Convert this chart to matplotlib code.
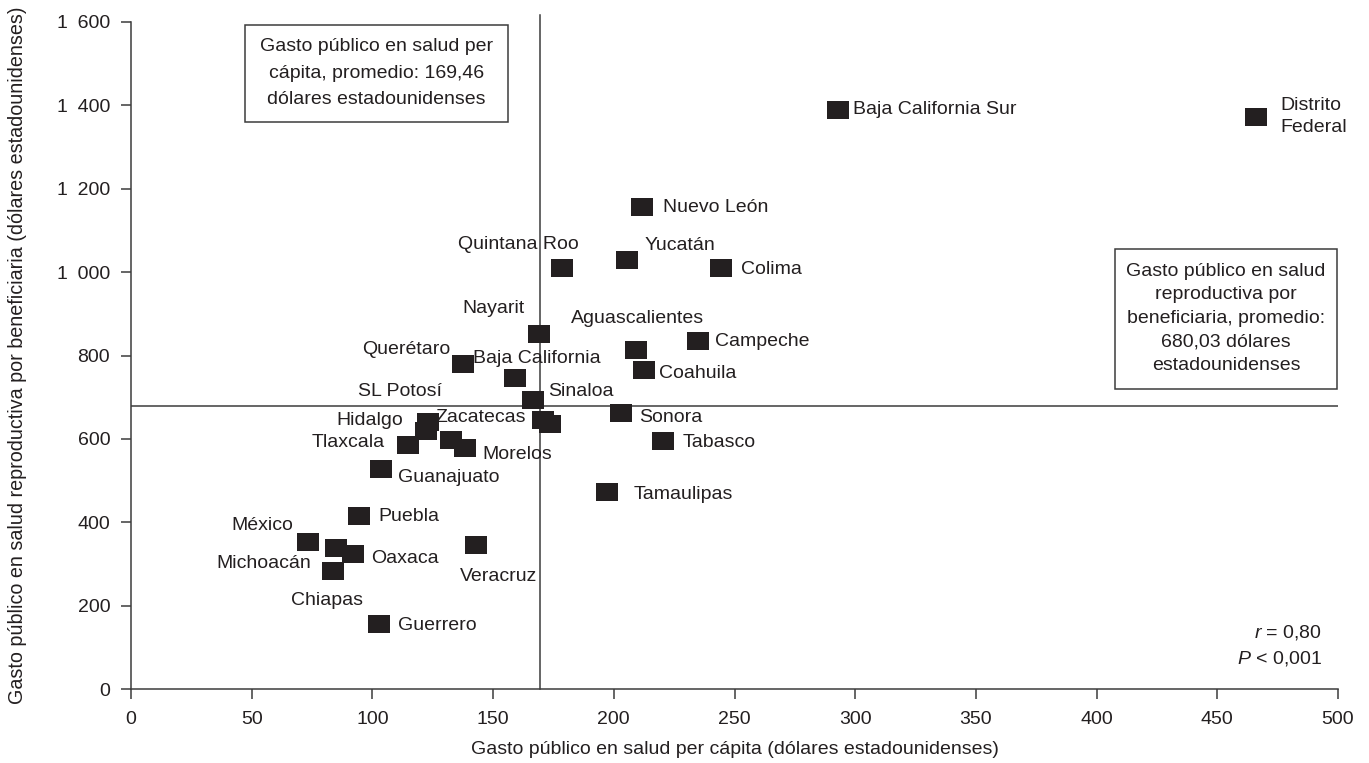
import numpy as np
import matplotlib
matplotlib.use("Agg")
import matplotlib.pyplot as plt
from matplotlib.patches import Rectangle

plt.rcParams["font.family"] = ["Liberation Sans", "DejaVu Sans"]
plt.rcParams["mathtext.fontset"] = "custom"
plt.rcParams["mathtext.rm"] = "Liberation Sans"
plt.rcParams["mathtext.it"] = "Liberation Sans:italic"

# State data: per-capita public health spending vs reproductive health spending per beneficiary
states = ["Baja California Sur", "Distrito\nFederal", "Nuevo León", "Quintana Roo", "Yucatán",
          "Colima", "Nayarit", "Aguascalientes", "Campeche", "Querétaro", "Baja California",
          "Coahuila", "Sinaloa", "SL Potosí", "Hidalgo", "Tlaxcala", "", "Morelos",
          "Zacatecas", "", "Sonora", "Tabasco", "Guanajuato", "Tamaulipas", "Puebla",
          "Veracruz", "México", "Michoacán", "Oaxaca", "Chiapas", "Guerrero"]
gasto_pc = [293, 466, 211.7, 178.4, 205.3,
            244.3, 169, 209.2, 234.7, 137.4, 159,
            212.4, 166.7, 122.9, 122.2, 114.6, 132.6, 138.4,
            170.8, 173.6, 203, 220.2, 103.6, 197, 94.4,
            142.8, 73.3, 84.9, 92, 83.7, 102.7]
gasto_sr = [1390, 1373, 1157, 1010, 1029,
            1010, 851, 813, 834, 779, 746,
            765, 694, 641, 618, 586, 598, 578,
            646, 636, 662, 595, 528, 472, 415,
            345, 352, 338, 323, 283, 155]

mean_pc = 169.46
mean_sr = 680.03
r_txt = "0,80"
p_txt = "0,001"

xticks = np.arange(0, 501, 50)
yticks = np.arange(0, 1601, 200)

# label offsets in pixels (dx, dy) and alignment
offsets = {
    "Baja California Sur": (15, 0, "left"),
    "Distrito\nFederal": (24, 0, "left"),
    "Nuevo León": (21, -1, "left"),
    "Quintana Roo": (-43, 23, "center"),
    "Yucatán": (18, 15, "left"),
    "Colima": (20, -2, "left"),
    "Nayarit": (-45, 26, "center"),
    "Aguascalientes": (2, 32, "center"),
    "Campeche": (17, 0, "left"),
    "Querétaro": (-12, 15, "right"),
    "Baja California": (22, 20, "center"),
    "Coahuila": (15, -3, "left"),
    "Sinaloa": (15, 8, "left"),
    "SL Potosí": (-28, 30, "center"),
    "Hidalgo": (-23, 11, "right"),
    "Tlaxcala": (-23, 2, "right"),
    "Morelos": (17, -6, "left"),
    "Zacatecas": (-17, 2, "right"),
    "Sonora": (18, -4, "left"),
    "Tabasco": (20, -2, "left"),
    "Guanajuato": (17, -9, "left"),
    "Tamaulipas": (27, -2, "left"),
    "Puebla": (19, -1, "left"),
    "Veracruz": (23, -31, "center"),
    "México": (-15, 17, "right"),
    "Michoacán": (-25, -15, "right"),
    "Oaxaca": (18, -4, "left"),
    "Chiapas": (-6, -29, "center"),
    "Guerrero": (19, -1, "left"),
}

ink = "#231f20"
line_c = "#3c3c3c"
W, H = 1369, 763

fig = plt.figure(figsize=(W / 100, H / 100), dpi=100)
ax = fig.add_axes([131 / W, 1 - 689 / H, (1338 - 131) / W, (689 - 22) / H])

# mean lines
ax.plot([mean_pc, mean_pc], [0, 1616], color=line_c, lw=1.1, clip_on=False, zorder=1)
ax.axhline(mean_sr, color=line_c, lw=1.1, zorder=1)

# rectangular markers, a bit wider than tall
rect = [(-1, -0.82), (1, -0.82), (1, 0.82), (-1, 0.82), (-1, -0.82)]
ax.plot(gasto_pc, gasto_sr, linestyle="none", marker=rect, markersize=15.8,
        markerfacecolor=ink, markeredgewidth=0, zorder=3)

for name, x, y in zip(states, gasto_pc, gasto_sr):
    if not name:
        continue
    dx, dy, ha = offsets[name]
    ax.annotate(name, (x, y), xytext=(dx * 0.72, dy * 0.72), textcoords="offset points",
                ha=ha, va="center", fontsize=14, color=ink, linespacing=1.4, zorder=4)

ax.set_xlim(0, 500)
ax.set_ylim(0, 1600)
ax.set_xticks(xticks)
ax.set_yticks(yticks)
ax.set_xticklabels([str(v) for v in xticks])
ax.set_yticklabels([f"{v:,}".replace(",", "\u2002") for v in yticks])
for s in ["top", "right"]:
    ax.spines[s].set_visible(False)
for s in ["left", "bottom"]:
    ax.spines[s].set_color(line_c)
    ax.spines[s].set_linewidth(1.1)
ax.tick_params(axis="both", direction="out", length=7, width=1.1, color=line_c,
               labelsize=14, labelcolor=ink)
ax.tick_params(axis="y", pad=8)
ax.tick_params(axis="x", pad=9)

ax.set_xlabel("Gasto público en salud per cápita (dólares estadounidenses)",
              fontsize=14, color=ink, labelpad=9)
fig.text(18 / W, 1 - 355 / H,
         "Gasto público en salud reproductiva por beneficiaria (dólares estadounidenses)",
         rotation=90, ha="center", va="center", fontsize=14.2, color=ink)

# boxed notes with the averages
fig.add_artist(Rectangle((245 / W, 1 - 122 / H), (508 - 245) / W, (122 - 25) / H,
                         transform=fig.transFigure, fill=False, ec=line_c, lw=1.1))
fig.text(376.5 / W, 1 - 73 / H,
         f"Gasto público en salud per\ncápita, promedio: {mean_pc:.2f}\ndólares estadounidenses".replace(".", ","),
         ha="center", va="center", fontsize=14, color=ink, linespacing=1.72)

fig.add_artist(Rectangle((1115 / W, 1 - 389 / H), (1337 - 1115) / W, (389 - 249) / H,
                         transform=fig.transFigure, fill=False, ec=line_c, lw=1.1))
fig.text(1226 / W, 1 - 318 / H,
         f"Gasto público en salud\nreproductiva por\nbeneficiaria, promedio:\n{mean_sr:.2f} dólares\nestadounidenses".replace(".", ","),
         ha="center", va="center", fontsize=14, color=ink, linespacing=1.5)

ax.text(1322 / W, 1 - 633 / H, rf"$\mathit{{r}}$ = {r_txt}", transform=fig.transFigure,
        ha="right", va="center", fontsize=14, color=ink)
ax.text(1322 / W, 1 - 658 / H, rf"$\mathit{{P}}$ < {p_txt}", transform=fig.transFigure,
        ha="right", va="center", fontsize=14, color=ink)

fig.savefig("out.png", dpi=100)
